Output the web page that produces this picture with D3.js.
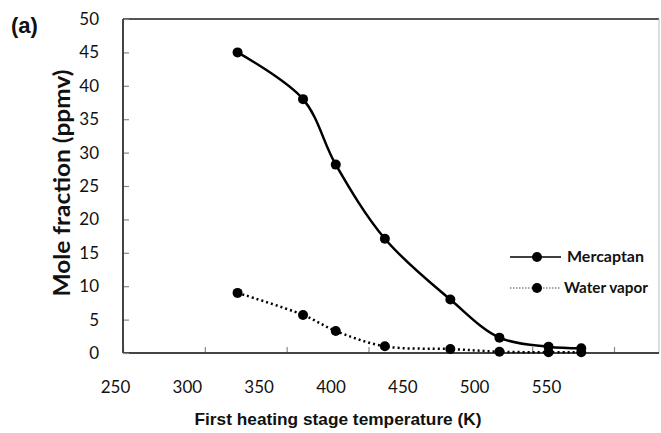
<!DOCTYPE html>
<html>
<head>
<meta charset="utf-8">
<script src="https://cdn.jsdelivr.net/npm/d3@7"></script>
<style>
  body { margin: 0; background: #fff; }
  svg { display: block; }
</style>
</head>
<body>
<div id="chart"></div>
<script>
// values
const temps = [320, 360, 380, 410, 450, 480, 510, 530];
const mercaptan = [45, 38, 28.2, 17.1, 8.0, 2.3, 0.95, 0.7];
const waterVapor = [9.0, 5.7, 3.3, 1.0, 0.6, 0.2, 0.1, 0.1];
const xTicks = [250, 300, 350, 400, 450, 500, 550];
const yTicks = [0, 5, 10, 15, 20, 25, 30, 35, 40, 45, 50];

const svgWidth = 661;
const svgHeight = 433;
const plot = { left: 123, right: 659, top: 19, bottom: 353 };

const svg = d3.select("#chart")
    .append("svg")
    .attr("width", svgWidth)
    .attr("height", svgHeight);

const xScale = d3.scaleLinear()
    .domain([250, 550])
    .range([plot.left, 614]);

// tick labels in the picture sit on their own (narrower) spacing
const xLabelScale = d3.scaleLinear()
    .domain([250, 550])
    .range([115, 546]);

const yScale = d3.scaleLinear()
    .domain([0, 50])
    .range([plot.bottom, plot.top]);

// plot frame: right and top edges
svg.append("line")
    .attr("x1", plot.left).attr("x2", plot.right)
    .attr("y1", plot.top).attr("y2", plot.top)
    .attr("stroke", "#555").attr("stroke-width", 2);
svg.append("line")
    .attr("x1", plot.right).attr("x2", plot.right)
    .attr("y1", plot.top).attr("y2", plot.bottom)
    .attr("stroke", "#bbb").attr("stroke-width", 1);

// x axis: inner tick marks
const xAxis = svg.append("g")
    .attr("transform", `translate(0, ${plot.bottom})`)
    .call(d3.axisBottom(xScale).tickValues(xTicks).tickSize(-6).tickFormat(""));
xAxis.select(".domain").remove();
xAxis.selectAll(".tick line").attr("stroke", "#888").attr("stroke-width", 1.2);
xAxis.append("line")
    .attr("x1", plot.left).attr("x2", plot.right)
    .attr("stroke", "#444").attr("stroke-width", 2);

// x tick labels
const xLabels = svg.append("g")
    .attr("transform", `translate(0, ${plot.bottom + 25})`)
    .call(d3.axisBottom(xLabelScale).tickValues(xTicks).tickSize(0));
xLabels.select(".domain").remove();
xLabels.selectAll("text")
    .attr("font-family", "Lato, 'Open Sans', sans-serif")
    .attr("font-size", 17)
    .attr("fill", "#111");

// y axis
const yAxis = svg.append("g")
    .attr("transform", `translate(${plot.left}, 0)`)
    .call(d3.axisLeft(yScale).tickValues(yTicks).tickSize(-6).tickPadding(24));
yAxis.select(".domain").remove();
yAxis.selectAll(".tick line").attr("stroke", "#888").attr("stroke-width", 1.2);
yAxis.selectAll("text")
    .attr("font-family", "Lato, 'Open Sans', sans-serif")
    .attr("font-size", 17)
    .attr("fill", "#111");
yAxis.append("line")
    .attr("y1", plot.top).attr("y2", plot.bottom)
    .attr("stroke", "#444").attr("stroke-width", 2);

// axis titles
svg.append("text")
    .attr("x", 338)
    .attr("y", 425)
    .attr("text-anchor", "middle")
    .attr("font-family", "'Liberation Sans', Arial, sans-serif")
    .attr("font-weight", "bold")
    .attr("font-size", 17)
    .attr("textLength", 287)
    .attr("lengthAdjust", "spacingAndGlyphs")
    .attr("fill", "#111")
    .text("First heating stage temperature (K)");

svg.append("text")
    .attr("transform", "translate(70, 183) rotate(-90)")
    .attr("text-anchor", "middle")
    .attr("font-family", "Lato, 'Open Sans', sans-serif")
    .attr("font-weight", "bold")
    .attr("font-size", 22)
    .attr("textLength", 227)
    .attr("lengthAdjust", "spacingAndGlyphs")
    .attr("fill", "#111")
    .text("Mole fraction (ppmv)");

svg.append("text")
    .attr("x", 11)
    .attr("y", 33)
    .attr("font-family", "'Liberation Sans', Arial, sans-serif")
    .attr("font-weight", "bold")
    .attr("font-size", 22)
    .attr("fill", "#111")
    .text("(a)");

// series
const series = [
    { name: "Mercaptan", values: mercaptan, dash: null },
    { name: "Water vapor", values: waterVapor, dash: "2,3" }
];

const line = d3.line()
    .x(d => xScale(d[0]))
    .y(d => yScale(d[1]))
    .curve(d3.curveCatmullRom.alpha(0.5));

series.forEach(s => {
    const pts = temps.map((t, i) => [t, s.values[i]]);
    svg.append("path")
        .datum(pts)
        .attr("d", line)
        .attr("fill", "none")
        .attr("stroke", "#000")
        .attr("stroke-width", 2.5)
        .attr("stroke-dasharray", s.dash);
    svg.append("g").selectAll("circle")
        .data(pts)
        .enter().append("circle")
        .attr("cx", d => xScale(d[0]))
        .attr("cy", d => yScale(d[1]))
        .attr("r", 5)
        .attr("fill", "#000");
});

// legend
const legend = svg.append("g");
series.forEach((s, i) => {
    const y = 257 + i * 31;
    legend.append("line")
        .attr("x1", 510).attr("x2", 561)
        .attr("y1", y).attr("y2", y)
        .attr("stroke", i === 0 ? "#000" : "#888")
        .attr("stroke-width", 1.5)
        .attr("stroke-dasharray", i === 0 ? null : "1.5,1.5");
    legend.append("circle")
        .attr("cx", 537).attr("cy", y)
        .attr("r", 5)
        .attr("fill", "#000");
    legend.append("text")
        .attr("x", i === 0 ? 567 : 564)
        .attr("y", y + 5)
        .attr("font-family", "Lato, 'Open Sans', sans-serif")
        .attr("font-weight", "bold")
        .attr("font-size", 15)
        .attr("textLength", i === 0 ? 77 : 84)
        .attr("lengthAdjust", "spacingAndGlyphs")
        .attr("fill", "#111")
        .text(s.name);
});
</script>
</body>
</html>
